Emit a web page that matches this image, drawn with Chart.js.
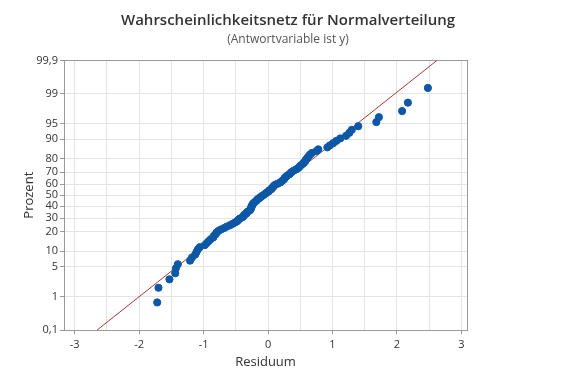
<!DOCTYPE html>
<html>
<head>
<meta charset="utf-8">
<script src="https://cdn.jsdelivr.net/npm/chart.js@4"></script>
<style>
  html, body { margin: 0; padding: 0; background: #fff; }
</style>
</head>
<body>
<canvas id="myChart" width="576" height="384"></canvas>
<script>
// residuals, sorted
const residuals = [
  -1.72, -1.70, -1.53, -1.44, -1.43, -1.40, -1.21, -1.18, -1.13, -1.11,
  -1.09, -1.06, -0.98, -0.95, -0.92, -0.89, -0.85, -0.84, -0.81, -0.80,
  -0.77, -0.73, -0.68, -0.64, -0.59, -0.55, -0.51, -0.48, -0.46, -0.44,
  -0.40, -0.38, -0.37, -0.34, -0.33, -0.31, -0.28, -0.27, -0.26, -0.26,
  -0.25, -0.24, -0.23, -0.21, -0.19, -0.17, -0.16, -0.13, -0.11, -0.09,
  -0.06, -0.04, -0.02, 0.01, 0.02, 0.05, 0.06, 0.08, 0.09, 0.11,
  0.15, 0.19, 0.21, 0.23, 0.25, 0.26, 0.28, 0.30, 0.33, 0.35,
  0.37, 0.40, 0.44, 0.47, 0.49, 0.51, 0.54, 0.56, 0.58, 0.59,
  0.61, 0.63, 0.65, 0.68, 0.75, 0.78, 0.92, 0.96, 1.01, 1.06,
  1.12, 1.21, 1.26, 1.30, 1.40, 1.68, 1.72, 2.08, 2.17, 2.48
];

const percentTicks = [0.1, 1, 5, 10, 20, 30, 40, 50, 60, 70, 80, 90, 95, 99, 99.9];
const percentLabels = ['0,1', '1', '5', '10', '20', '30', '40', '50', '60', '70', '80', '90', '95', '99', '99,9'];

// fitted normal line
const fitMean = -0.015;
const fitSd = 0.853;

// inverse normal cdf (Acklam)
function probit(p) {
  const a = [-39.69683028665376, 220.9460984245205, -275.9285104469687, 138.3577518672690, -30.66479806614716, 2.506628277459239];
  const b = [-54.47609879822406, 161.5858368580409, -155.6989798598866, 66.80131188771972, -13.28068155288572];
  const c = [-0.007784894002430293, -0.3223964580411365, -2.400758277161838, -2.549732539343734, 4.374664141464968, 2.938163982698783];
  const d = [0.007784695709041462, 0.3224671290700398, 2.445134137142996, 3.754408661907416];
  const pl = 0.02425;
  let q, r;
  if (p < pl) {
    q = Math.sqrt(-2 * Math.log(p));
    return (((((c[0]*q+c[1])*q+c[2])*q+c[3])*q+c[4])*q+c[5]) / ((((d[0]*q+d[1])*q+d[2])*q+d[3])*q+1);
  }
  if (p <= 1 - pl) {
    q = p - 0.5; r = q * q;
    return (((((a[0]*r+a[1])*r+a[2])*r+a[3])*r+a[4])*r+a[5])*q / (((((b[0]*r+b[1])*r+b[2])*r+b[3])*r+b[4])*r+1);
  }
  q = Math.sqrt(-2 * Math.log(1 - p));
  return -(((((c[0]*q+c[1])*q+c[2])*q+c[3])*q+c[4])*q+c[5]) / ((((d[0]*q+d[1])*q+d[2])*q+d[3])*q+1);
}

const n = residuals.length;
const points = residuals.map((r, i) => ({ x: r, y: probit((i + 1 - 0.3) / (n + 0.4)) }));
const zMin = probit(percentTicks[0] / 100);
const zMax = probit(percentTicks[percentTicks.length - 1] / 100);
const linePts = [
  { x: fitMean + fitSd * zMin, y: zMin },
  { x: fitMean + fitSd * zMax, y: zMax }
];

Chart.defaults.font.family = "'Open Sans', 'Noto Sans', sans-serif";
Chart.defaults.color = '#333';

const gridCol = '#e4e4e4';
const axisCol = '#9a9a9a';

new Chart(document.getElementById('myChart'), {
  type: 'scatter',
  data: {
    datasets: [
      {
        type: 'line',
        data: linePts,
        borderColor: '#a23b3b',
        borderWidth: 1,
        pointRadius: 0,
        fill: false,
        order: 2
      },
      {
        data: points,
        backgroundColor: '#0c58a6',
        borderColor: '#0c58a6',
        pointRadius: 3.6,
        order: 1
      }
    ]
  },
  options: {
    responsive: false,
    animation: false,
    layout: { padding: 0 },
    plugins: {
      legend: { display: false },
      tooltip: { enabled: false },
      title: {
        display: true,
        text: 'Wahrscheinlichkeitsnetz für Normalverteilung',
        color: '#333',
        font: { size: 15, weight: '600' },
        padding: { top: 12, bottom: 2 }
      },
      subtitle: {
        display: true,
        text: '(Antwortvariable ist y)',
        color: '#555',
        font: { size: 12 },
        padding: { bottom: 14 }
      }
    },
    scales: {
      x: {
        type: 'linear',
        position: 'bottom',
        min: -3.166,
        max: 3.087,
        afterBuildTicks: scale => {
          const t = [];
          for (let v = -3; v <= 3.001; v += 0.5) t.push({ value: Math.round(v * 10) / 10 });
          scale.ticks = t;
        },
        afterFit: scale => { scale.height = 54; },
        ticks: {
          autoSkip: false,
          maxRotation: 0,
          padding: 4,
          font: { size: 11 },
          color: '#333',
          callback: v => Number.isInteger(v) ? String(v) : ''
        },
        grid: {
          color: gridCol,
          tickLength: 4,
          tickColor: ctx => (ctx.tick && Number.isInteger(ctx.tick.value)) ? axisCol : 'rgba(0,0,0,0)'
        },
        border: { color: axisCol },
        title: {
          display: true,
          text: 'Residuum',
          font: { size: 13 },
          color: '#333',
          padding: { top: 0, bottom: 14 }
        }
      },
      xTop: {
        type: 'linear',
        position: 'top',
        min: -3.166,
        max: 3.087,
        ticks: { display: false },
        grid: { display: false, drawTicks: false },
        border: { display: true, color: axisCol }
      },
      y: {
        type: 'linear',
        position: 'left',
        min: zMin,
        max: zMax,
        afterBuildTicks: scale => {
          scale.ticks = percentTicks.map(p => ({ value: probit(p / 100) }));
        },
        afterFit: scale => { scale.width = 64; },
        ticks: {
          autoSkip: false,
          padding: 2,
          font: { size: 11 },
          color: '#333',
          callback: (v, i) => percentLabels[i]
        },
        grid: { color: gridCol, tickLength: 4, tickColor: axisCol },
        border: { color: axisCol },
        title: {
          display: true,
          text: 'Prozent',
          font: { size: 13 },
          color: '#333',
          padding: { top: 21, bottom: 0 }
        }
      },
      yRight: {
        type: 'linear',
        position: 'right',
        min: zMin,
        max: zMax,
        afterFit: scale => { scale.width = 109; },
        ticks: { display: false },
        grid: { display: false, drawTicks: false },
        border: { display: true, color: axisCol }
      }
    }
  }
});
</script>
</body>
</html>
